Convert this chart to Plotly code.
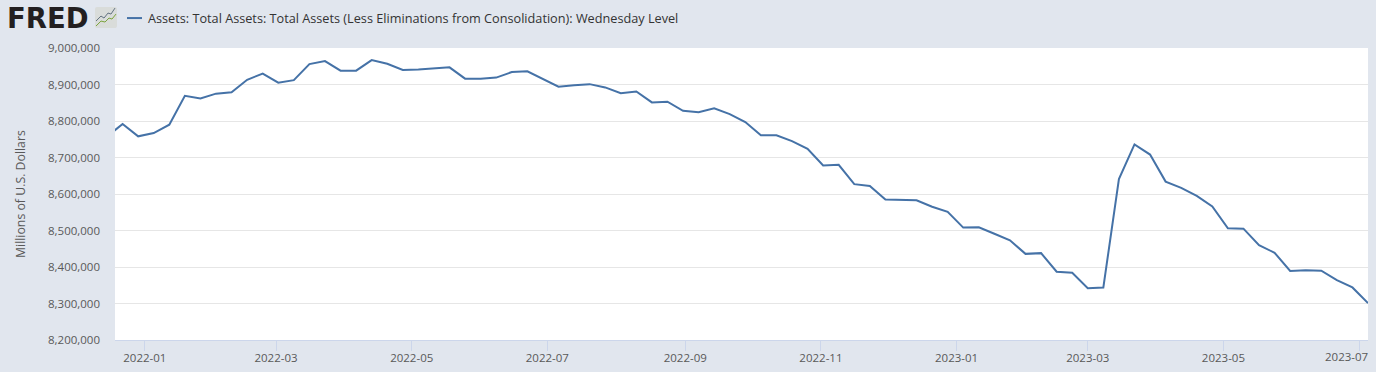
import pandas as pd
import plotly.graph_objects as go

series_name = "Assets: Total Assets: Total Assets (Less Eliminations from Consolidation): Wednesday Level"
y_title = "Millions of U.S. Dollars"
dates = pd.date_range("2021-12-15", "2023-07-05", freq="7D")
values = [
    8757, 8792, 8758, 8767, 8790, 8869, 8862, 8875, 8879, 8913, 8930, 8905, 8912, 8956,
    8964, 8938, 8938, 8967, 8957, 8940, 8941, 8943, 8947, 8916, 8916, 8919, 8934, 8936,
    8915, 8894, 8898, 8901, 8892, 8876, 8881, 8851, 8853, 8828, 8824, 8835, 8819, 8797,
    8761, 8761, 8745, 8724, 8678, 8680, 8627, 8622, 8585, 8583, 8583, 8565, 8551, 8508,
    8509, 8491, 8473, 8436, 8438, 8387, 8384, 8342, 8344, 8641, 8736, 8708, 8634, 8617,
    8595, 8566, 8506, 8505, 8460, 8439, 8389, 8391, 8390, 8364, 8344, 8301,
]
values = [v * 1000 for v in values]
y_ticks = [8200000, 8300000, 8400000, 8500000, 8600000, 8700000, 8800000, 8900000, 9000000]
x_ticks = ["2022-01-01", "2022-03-01", "2022-05-01", "2022-07-01", "2022-09-01", "2022-11-01",
           "2023-01-01", "2023-03-01", "2023-05-01", "2023-07-01"]
x_labels = ["2022-01", "2022-03", "2022-05", "2022-07", "2022-09", "2022-11",
            "2023-01", "2023-03", "2023-05", ""]
last_label = "2023-07"

BG = "#e1e6ee"
LINE = "#4572a7"
TXT = "#595959"
W, H = 1376, 372
L, R, T, B = 115, 8, 48, 31.5
PW, PH = W - L - R, H - T - B

def px(x):
    return (x - L) / PW

def py(y):
    return 1 + (T - y) / PH

icon = ("data:image/svg+xml;utf8,"
        "<svg xmlns='http://www.w3.org/2000/svg' width='22' height='21'>"
        "<rect x='0' y='0' width='22' height='21' rx='2' fill='%23d9dcda'/>"
        "<path d='M1 14 L6 9 L9 11 L13 6 L16 7 L20 1' stroke='%23607080' stroke-width='1' fill='none'/>"
        "<path d='M1 19 L6 14 L10 15 L14 11 L17 12 L21 7' stroke='%237aa33c' stroke-width='1' fill='none'/>"
        "</svg>").replace("<", "%3C").replace(">", "%3E")

fig = go.Figure(go.Scatter(x=dates, y=values, mode="lines", name=series_name,
                           line=dict(color=LINE, width=2), hoverinfo="x+y"))
fig.update_layout(
    width=W, height=H, autosize=False, showlegend=False,
    margin=dict(l=L, r=R, t=T, b=B, pad=0, autoexpand=False),
    paper_bgcolor=BG, plot_bgcolor="#ffffff",
    font=dict(family="Open Sans", size=12, color=TXT),
    xaxis=dict(range=["2021-12-18 14:00", "2023-07-05"], type="date", tickvals=x_ticks, ticktext=x_labels,
               ticks="outside", ticklen=10, tickwidth=1, tickcolor="#ccd6eb", automargin=False,
               ticklabelstandoff=-3,
               showline=True, linecolor="#ccd6eb", linewidth=1, showgrid=False, zeroline=False,
               tickfont=dict(size=11.5, color=TXT)),
    yaxis=dict(range=[8200000, 9000000], tickvals=y_ticks, tickformat=",d", ticks="", automargin=False,
               ticklabelstandoff=14, showgrid=True, gridcolor="#e6e6e6", gridwidth=1.2, zeroline=False,
               showline=False, tickfont=dict(size=11.5, color=TXT)),
    annotations=[
        dict(text=y_title, xref="paper", yref="paper", x=px(20), y=0.5, textangle=-90, showarrow=False,
             xanchor="center", yanchor="middle", font=dict(size=12.3, color=TXT)),
        dict(text=series_name, xref="paper", yref="paper", x=px(146), y=py(18),
             showarrow=False, xanchor="left", yanchor="middle", font=dict(size=12.7, color="#333333")),
        dict(text="<b>FRED</b>", xref="paper", yref="paper", x=px(5), y=py(18),
             showarrow=False, xanchor="left", yanchor="middle",
             font=dict(family="DejaVu Sans", size=27.5, color="#231f20")),
        dict(text=last_label, xref="paper", yref="paper", x=px(1370), y=py(357),
             showarrow=False, xanchor="right", yanchor="middle", font=dict(size=11.5, color=TXT)),
    ],
    shapes=[dict(type="line", xref="paper", yref="paper",
                 x0=px(127), x1=px(142), y0=py(18), y1=py(18),
                 line=dict(color=LINE, width=2))],
    images=[dict(source=icon, xref="paper", yref="paper", x=px(95), y=py(7),
                 sizex=22 / PW, sizey=21 / PH, xanchor="left", yanchor="top", layer="above")],
)
fig.write_html("out.html", config={"displayModeBar": False},
               post_script="document.body.style.margin='0';document.body.style.background='#e1e6ee';")
